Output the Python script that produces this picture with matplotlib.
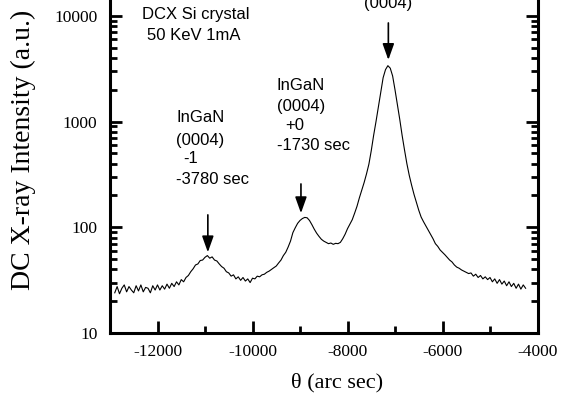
import matplotlib
matplotlib.use('Agg')
import matplotlib.pyplot as plt
from matplotlib.ticker import MultipleLocator, FixedLocator, FixedFormatter, LogLocator, NullFormatter

# rocking curve (arc sec, counts)
theta = [
    -12900, -12850, -12800, -12750, -12700, -12650, -12600, -12550, -12500, -12450,
    -12400, -12350, -12300, -12250, -12200, -12150, -12100, -12050, -12000, -11950,
    -11900, -11850, -11800, -11750, -11700, -11650, -11600, -11550, -11500, -11450,
    -11400, -11350, -11300, -11250, -11200, -11150, -11100, -11050, -11000, -10950,
    -10900, -10850, -10800, -10750, -10700, -10650, -10600, -10550, -10500, -10450,
    -10400, -10350, -10300, -10250, -10200, -10150, -10100, -10050, -10000, -9950,
    -9900, -9850, -9800, -9750, -9700, -9650, -9600, -9550, -9500, -9450,
    -9400, -9350, -9300, -9250, -9200, -9150, -9100, -9050, -9000, -8950,
    -8900, -8850, -8800, -8750, -8700, -8650, -8600, -8550, -8500, -8450,
    -8400, -8350, -8300, -8250, -8200, -8150, -8100, -8050, -8000, -7950,
    -7900, -7850, -7800, -7750, -7700, -7650, -7600, -7550, -7500, -7450,
    -7400, -7350, -7300, -7250, -7200, -7150, -7100, -7050, -7000, -6950,
    -6900, -6850, -6800, -6750, -6700, -6650, -6600, -6550, -6500, -6450,
    -6400, -6350, -6300, -6250, -6200, -6150, -6100, -6050, -6000, -5950,
    -5900, -5850, -5800, -5750, -5700, -5650, -5600, -5550, -5500, -5450,
    -5400, -5350, -5300, -5250, -5200, -5150, -5100, -5050, -5000, -4950,
    -4900, -4850, -4800, -4750, -4700, -4650, -4600, -4550, -4500, -4450,
    -4400, -4350, -4300, -4250,
]
intensity = [
    24, 27.5, 23.5, 26.5, 28.5, 24.5, 27.5, 25.5, 24, 28,
    25, 28.5, 24.5, 27, 26.5, 24, 28, 25.5, 28.5, 25.5,
    28, 26, 29, 26.5, 29.5, 27.5, 30.5, 28.5, 32, 30.5,
    33.5, 35, 38, 40.5, 44, 45, 48.5, 49, 52, 54,
    51, 52.5, 49, 48, 45, 42.5, 41, 38, 37, 34.5,
    35.5, 32.5, 34, 31.5, 33.5, 31, 32.5, 30, 33, 32.5,
    34.5, 34, 35.5, 36, 37.5, 38.5, 40, 41.5, 43, 46,
    49, 54, 58, 65, 74, 89, 99, 109, 116, 121,
    124, 123, 116, 106, 96, 88, 82, 77, 74, 72,
    70, 71, 69, 70.5, 70, 72, 78, 86, 97, 107,
    118, 136, 158, 190, 225, 265, 320, 395, 530, 740,
    1000, 1380, 1900, 2600, 3100, 3380, 3200, 2700, 2000, 1450,
    1050, 740, 540, 400, 310, 250, 205, 172, 145, 125,
    113, 103, 94, 86, 78, 70, 66, 61, 58, 55,
    52, 49, 47, 44, 42, 41, 39.5, 38.5, 37.5, 36.5,
    37, 34.5, 36, 33.5, 35, 32.5, 34, 32, 33.5, 30.5,
    32.5, 29.5, 32, 29, 31, 28, 30.5, 27.5, 29.5, 26.5,
    29, 26, 28.5, 26.5,
]

# arrows: peak position, arrow tip, arrow tail
arrow_x = [-10940, -8980, -7140]
arrow_tip = [58, 136, 3830]
arrow_tail = [131, 257, 8570]

xticks = [-12000, -10000, -8000, -6000, -4000]
xtick_labels = ['-12000', '-10000', '-8000', '-6000', '-4000']
yticks = [10, 100, 1000, 10000]
ytick_labels = ['10', '100', '1000', '10000']

W, H = 565, 398
fig = plt.figure(figsize=(W / 100, H / 100), dpi=100)
ax = fig.add_axes([110 / W, 65 / H, 427.5 / W, 333 / H])

ax.plot(theta, intensity, color='black', lw=0.8)
ax.set_yscale('log')
ax.set_xlim(-13000, -4000)
ax.set_ylim(10, 14130)

ax.xaxis.set_major_locator(FixedLocator(xticks))
ax.xaxis.set_major_formatter(FixedFormatter(xtick_labels))
ax.xaxis.set_minor_locator(MultipleLocator(1000))
ax.yaxis.set_major_locator(FixedLocator(yticks))
ax.yaxis.set_major_formatter(FixedFormatter(ytick_labels))
ax.yaxis.set_minor_locator(LogLocator(base=10, subs=range(2, 10)))
ax.yaxis.set_minor_formatter(NullFormatter())

for s in ['left', 'right', 'bottom']:
    ax.spines[s].set_linewidth(2.2)
ax.spines['top'].set_visible(False)

ax.tick_params(which='both', direction='in', width=2, right=True, top=False)
ax.tick_params(which='major', length=8.6)
ax.tick_params(which='minor', length=5)
ax.tick_params(axis='y', pad=9)
ax.tick_params(axis='x', pad=8)
for lab in ax.get_xticklabels() + ax.get_yticklabels():
    lab.set_family('Liberation Serif')
    lab.set_fontsize(12.5)

for x, tip, tail in zip(arrow_x, arrow_tip, arrow_tail):
    ax.annotate('', xy=(x, tip), xytext=(x, tail),
                arrowprops=dict(arrowstyle='-|>,head_length=0.7,head_width=0.25',
                                color='black', lw=1.2, mutation_scale=14,
                                shrinkA=0, shrinkB=0))

def ptext(x, y, s, **kw):
    fig.text(x / W, 1 - y / H, s, family='Liberation Sans', fontsize=12,
             va=kw.pop('va', 'center'), **kw)

ptext(142, 14, 'DCX Si crystal')
ptext(147, 36, '50 KeV 1mA')
ptext(176, 118, 'InGaN')
ptext(176, 141, '(0004)')
ptext(183, 158, '-1')
ptext(176, 179, '-3780 sec')
ptext(277, 85, 'InGaN')
ptext(277, 106, '(0004)')
ptext(285, 125, '+0')
ptext(277, 145, '-1730 sec')
# label above the main peak runs off the top edge, as in the source
ptext(388, 8, 'GaN\n(0004)', ha='center', va='baseline')

fig.text(23 / W, 1 - 150 / H, 'DC X-ray Intensity (a.u.)', rotation=90,
         ha='center', va='center', family='Liberation Serif', fontsize=20)
fig.text(337 / W, 1 - 383 / H, '\u03b8 (arc sec)', ha='center', va='center',
         family='Liberation Serif', fontsize=16)

fig.savefig('out.png', dpi=100)
